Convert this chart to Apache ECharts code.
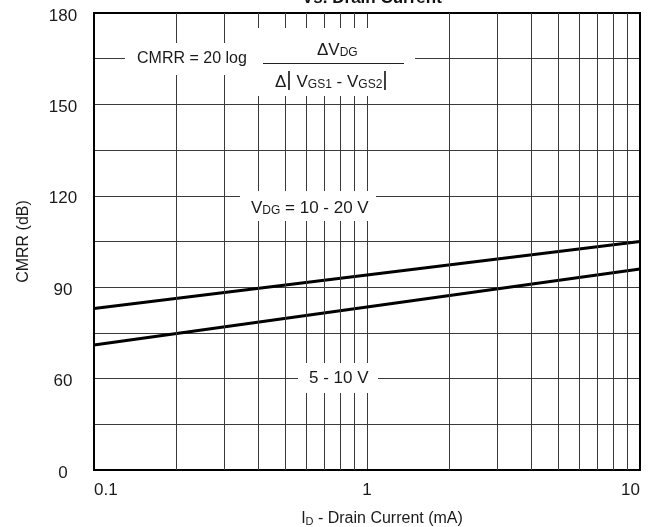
<!DOCTYPE html>
<html>
<head>
<meta charset="utf-8">
<script src="https://cdn.jsdelivr.net/npm/echarts@6/dist/echarts.min.js"></script>
<style>html,body{margin:0;padding:0;background:#fff;}#c{width:658px;height:527px;}</style>
</head>
<body>
<div id="c"></div>
<script>
// Drain current (mA)
var currentMA = [0.1, 1, 10];
// CMRR (dB) for V_DG = 10 - 20 V
var cmrrHigh = [83, 94, 105];
// CMRR (dB) for V_DG = 5 - 10 V
var cmrrLow = [71, 83.5, 96];
// y ticks and their printed labels (bottom tick printed as "0")
var yTicks = [30, 60, 90, 120, 150, 180];
var yTickLabels = ['0', '60', '90', '120', '150', '180'];
// x tick labels
var xTicks = [0.1, 1, 10];
var xTickLabels = ['0.1', '1', '10'];
// log-decade vertical grid positions
var xGrid = [0.2, 0.3, 0.4, 0.5, 0.6, 0.7, 0.8, 0.9, 2, 3, 4, 5, 6, 7, 8, 9];

var FONT = '"Liberation Sans", Arial, sans-serif';
var GRID = '#3a3a3a';
var TXT = '#1a1a1a';

function pairs(xs, ys) { return xs.map(function (x, i) { return [x, ys[i]]; }); }

var SUBRICH = {
  m: { fontSize: 17, fontFamily: FONT, fill: TXT, color: TXT, lineHeight: 20, verticalAlign: 'bottom' },
  s: { fontSize: 12, fontFamily: FONT, fill: TXT, color: TXT, lineHeight: 9, verticalAlign: 'bottom' },
  b: { fontSize: 21, fontFamily: FONT, fill: TXT, color: TXT, lineHeight: 21, verticalAlign: 'bottom' }
};

var chart = echarts.init(document.getElementById('c'), null, { renderer: 'canvas' });
chart.setOption({
  animation: false,
  backgroundColor: '#fff',
  grid: { left: 94, right: 18, top: 13, bottom: 57, show: true, borderColor: '#000', borderWidth: 2, z: 5,
          containLabel: false, outerBoundsMode: 'none' },
  xAxis: {
    type: 'log', logBase: 10, min: 0.1, max: 10,
    axisLine: { show: false }, axisTick: { show: false },
    splitLine: { show: true, lineStyle: { color: GRID, width: 1 } },
    axisLabel: {
      margin: 12, fontSize: 17, color: TXT, fontFamily: FONT,
      alignMinLabel: 'left', alignMaxLabel: 'right',
      formatter: function (v) { var i = xTicks.indexOf(+v); return i >= 0 ? xTickLabels[i] : ''; }
    },
    name: '{m|I}{s|D}{m| - Drain Current (mA)}',
    nameLocation: 'middle', nameGap: 37,
    nameTextStyle: {
      padding: [0, 0, 0, 30],
      rich: {
        m: { fontSize: 16, color: TXT, fontFamily: FONT, lineHeight: 20, verticalAlign: 'bottom' },
        s: { fontSize: 11, color: TXT, fontFamily: FONT, lineHeight: 9, verticalAlign: 'bottom' }
      }
    }
  },
  yAxis: {
    type: 'value', min: 30, max: 180, interval: 30,
    axisLine: { show: false }, axisTick: { show: false },
    splitLine: { show: true, lineStyle: { color: GRID, width: 1 } },
    minorTick: { show: false, splitNumber: 2 },
    minorSplitLine: { show: true, lineStyle: { color: GRID, width: 1 } },
    axisLabel: {
      margin: 31, align: 'center',
      formatter: function (v) { var i = yTicks.indexOf(v); return i >= 0 ? '{t|' + yTickLabels[i] + '}' : ''; },
      rich: { t: { fontSize: 17, color: TXT, fontFamily: FONT, padding: [6, 0, 0, 0] } }
    },
    name: 'CMRR (dB)', nameLocation: 'middle', nameGap: 62,
    nameTextStyle: { fontSize: 16, color: TXT, fontFamily: FONT }
  },
  series: [
    {
      type: 'line', data: pairs(currentMA, cmrrHigh), symbol: 'none', z: 3,
      lineStyle: { color: '#000', width: 3 },
      markLine: {
        silent: true, symbol: ['none', 'none'], label: { show: false },
        lineStyle: { color: GRID, width: 1, type: 'solid' },
        data: xGrid.map(function (x) { return { xAxis: x }; })
      }
    },
    {
      type: 'line', data: pairs(currentMA, cmrrLow), symbol: 'none', z: 3,
      lineStyle: { color: '#000', width: 3 }
    }
  ],
  graphic: [
    // title (partly cut off at top)
    { type: 'text', left: 302, top: -10, z: 100,
      style: { text: 'Vs. Drain Current', font: 'bold 17px ' + FONT, fill: '#111' } },
    // formula masks
    { type: 'rect', shape: { x: 125, y: 43, width: 132, height: 32 }, style: { fill: '#fff' }, z: 90 },
    { type: 'rect', shape: { x: 254, y: 28, width: 161, height: 68 }, style: { fill: '#fff' }, z: 90 },
    { type: 'text', x: 137, y: 51, z: 100,
      style: { text: 'CMRR = 20 log', font: '16px ' + FONT, fill: TXT } },
    { type: 'line', shape: { x1: 263, y1: 63.5, x2: 404, y2: 63.5 }, style: { stroke: '#222', lineWidth: 1 }, z: 100 },
    { type: 'text', x: 317, y: 39, z: 100,
      style: { text: '{m|ΔV}{s|DG}', rich: SUBRICH } },
    { type: 'text', x: 275, y: 70, z: 100,
      style: { text: '{m|Δ}{b||}{m| V}{s|GS1}{m| - V}{s|GS2}{b||}', rich: SUBRICH } },
    // V_DG label
    { type: 'rect', shape: { x: 240, y: 191, width: 136, height: 30 }, style: { fill: '#fff' }, z: 90 },
    { type: 'text', x: 251, y: 197, z: 100,
      style: { text: '{m|V}{s|DG}{m| = 10 - 20 V}', rich: SUBRICH } },
    // 5 - 10 V label
    { type: 'rect', shape: { x: 298, y: 363, width: 80, height: 30 }, style: { fill: '#fff' }, z: 90 },
    { type: 'text', x: 309, y: 370, z: 100,
      style: { text: '5 - 10 V', font: '17px ' + FONT, fill: TXT } }
  ]
});
</script>
</body>
</html>
